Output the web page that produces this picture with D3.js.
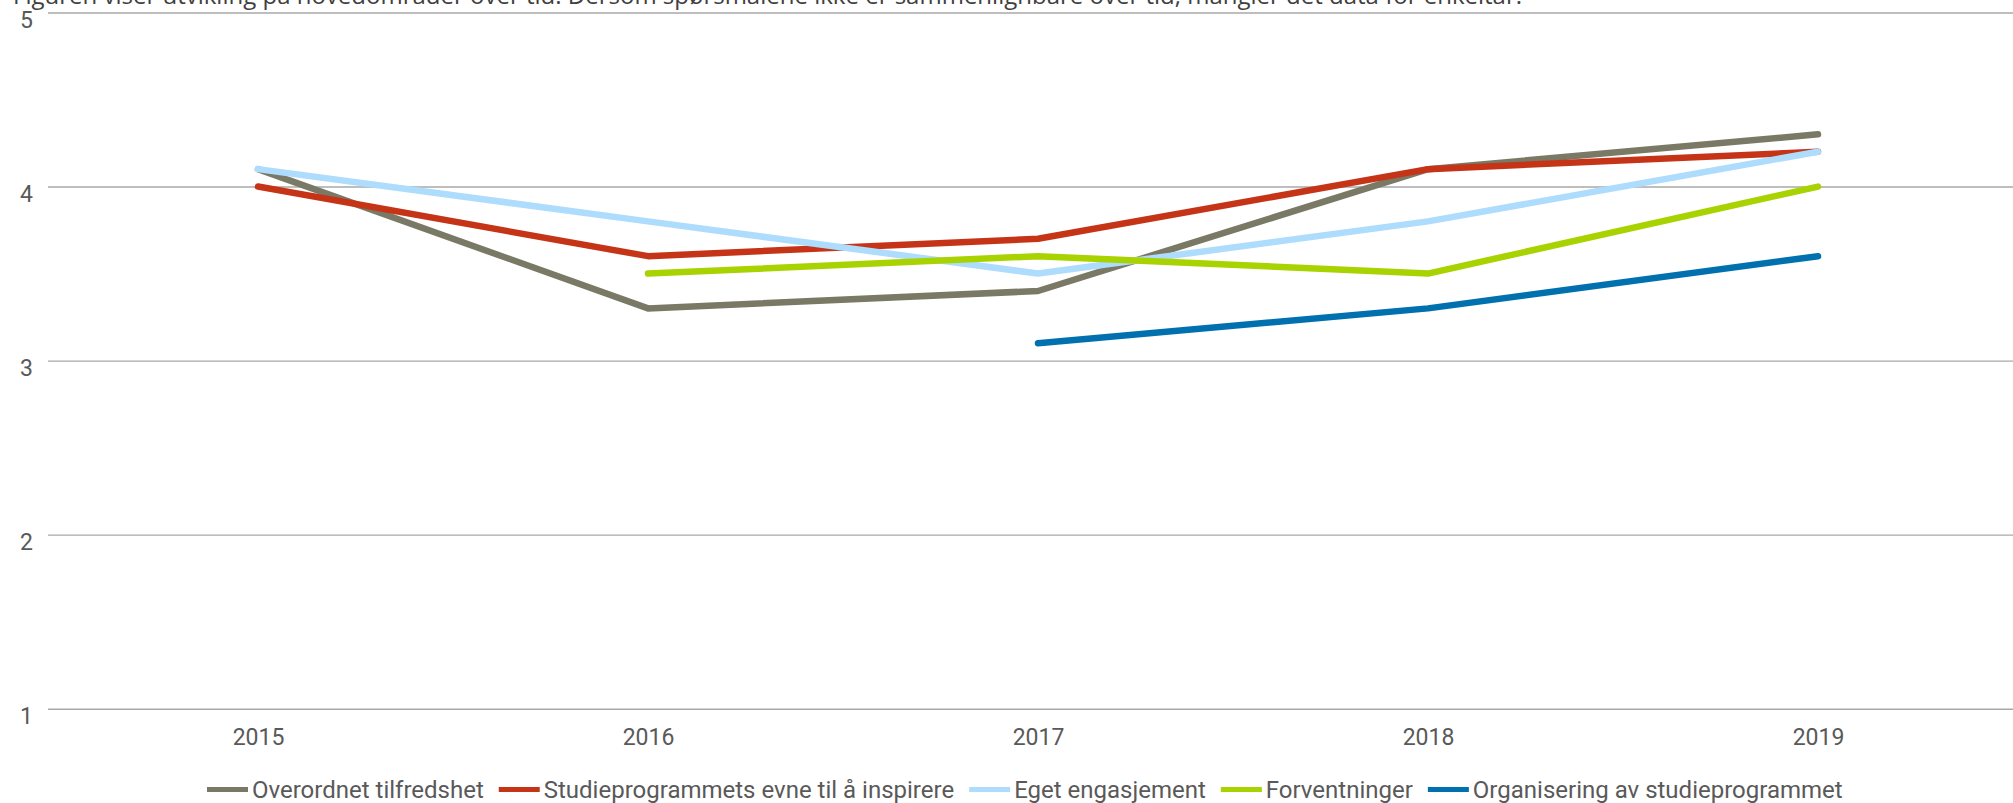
<!DOCTYPE html>
<html>
<head>
<meta charset="utf-8">
<script src="https://cdn.jsdelivr.net/npm/d3@7"></script>
<style>
  html, body { margin: 0; padding: 0; background: #fff; }
  svg { display: block; }
</style>
</head>
<body>
<svg id="chart" width="2013" height="803"></svg>
<script>
const years = ["2015", "2016", "2017", "2018", "2019"];
const yTicks = [1, 2, 3, 4, 5];
const seriesNames = [
  "Overordnet tilfredshet",
  "Studieprogrammets evne til å inspirere",
  "Eget engasjement",
  "Forventninger",
  "Organisering av studieprogrammet"
];
const seriesColors = ["#7a7966", "#c63418", "#aedcfd", "#a8d200", "#0070ae"];
const overordnet = [4.1, 3.3, 3.4, 4.1, 4.3];
const inspirere = [4.0, 3.6, 3.7, 4.1, 4.2];
const engasjement = [4.1, 3.8, 3.5, 3.8, 4.2];
const forventninger = [null, 3.5, 3.6, 3.5, 4.0];
const organisering = [null, null, 3.1, 3.3, 3.6];
const seriesValues = [overordnet, inspirere, engasjement, forventninger, organisering];
const subtitle = "Figuren viser utvikling på hovedområder over tid. Dersom spørsmålene ikke er sammenlignbare over tid, mangler det data for enkeltår.";

const svg = d3.select("#chart");
const W = 2013;

const x = d3.scalePoint().domain(years).range([258, 1818]);
const y = d3.scaleLinear().domain([1, 5]).range([708.7, 12.5]);

// subtitle (cut off at top, as in the reference)
svg.append("text")
  .attr("x", 13).attr("y", 4)
  .attr("font-family", "Open Sans")
  .attr("font-size", 24)
  .attr("fill", "#404040")
  .text(subtitle);

// gridlines
const yAxis = d3.axisLeft(y).tickValues(yTicks).tickFormat(d3.format("d"))
  .tickSize(-(W - 48)).tickPadding(15);
const gy = svg.append("g").attr("transform", "translate(48,0)").call(yAxis);
gy.select(".domain").remove();
gy.selectAll(".tick line").attr("stroke", "#a8a8a8").attr("stroke-width", 1.4);
gy.selectAll(".tick text")
  .attr("font-family", "Roboto").attr("font-size", 23).attr("fill", "#595959")
  .attr("dy", "0.9em").attr("y", -6);

// x axis labels
const xAxis = d3.axisBottom(x).tickSize(0).tickPadding(0);
const gx = svg.append("g").attr("transform", "translate(0,729)").call(xAxis);
gx.select(".domain").remove();
gx.selectAll(".tick text")
  .attr("font-family", "Roboto").attr("font-size", 23).attr("fill", "#595959")
  .attr("dy", "0.71em");

// lines
const line = d3.line()
  .defined(d => d.v != null)
  .x(d => x(d.year))
  .y(d => y(d.v));

seriesValues.forEach((vals, i) => {
  const data = years.map((yr, j) => ({ year: yr, v: vals[j] }));
  svg.append("path")
    .datum(data)
    .attr("fill", "none")
    .attr("stroke", seriesColors[i])
    .attr("stroke-width", 6.5)
    .attr("stroke-linecap", "round")
    .attr("stroke-linejoin", "round")
    .attr("d", line);
});

// legend
const legend = svg.append("g");
let lx = 207;
const ly = 789.5;
seriesNames.forEach((name, i) => {
  legend.append("line")
    .attr("x1", lx).attr("x2", lx + 41)
    .attr("y1", ly).attr("y2", ly)
    .attr("stroke", seriesColors[i]).attr("stroke-width", 5);
  const t = legend.append("text")
    .attr("x", lx + 45).attr("y", 797.5)
    .attr("font-family", "Roboto").attr("font-size", 24).attr("fill", "#595959")
    .text(name);
  lx += 45 + t.node().getComputedTextLength() + 15;
});
</script>
</body>
</html>
